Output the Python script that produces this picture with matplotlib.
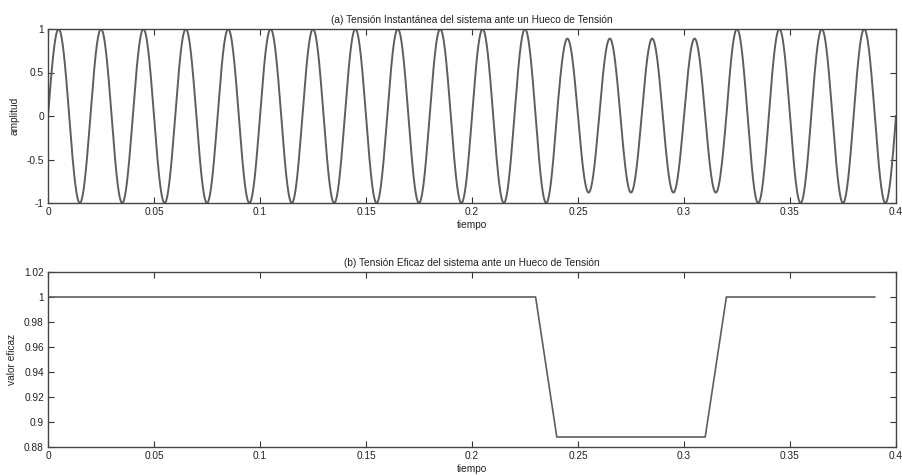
import numpy as np
import matplotlib
matplotlib.use("Agg")
import matplotlib.pyplot as plt

plt.rcParams['font.family'] = ['Liberation Sans', 'DejaVu Sans']

# --- data ---
freq_hz = 50.0
t_end = 0.4
# peak amplitude of each half cycle (0.01 s each)
half_cycle_amp = [1, 1, 1, 1, 1, 1, 1, 1, 1, 1,
                  1, 1, 1, 1, 1, 1, 1, 1, 1, 1,
                  1, 1, 1, 1, 0.89, 0.88, 0.89, 0.88, 0.89, 0.88,
                  0.89, 0.88, 1, 1, 1, 1, 1, 1, 1, 1]
rms_t = [0.0, 0.23, 0.24, 0.31, 0.32, 0.39]
rms_v = [1.0, 1.0, 0.888, 0.888, 1.0, 1.0]

x_ticks = [0, 0.05, 0.1, 0.15, 0.2, 0.25, 0.3, 0.35, 0.4]
x_ticklabels = ['0', '0.05', '0.1', '0.15', '0.2', '0.25', '0.3', '0.35', '0.4']
ya_ticks = [-1, -0.5, 0, 0.5, 1]
ya_ticklabels = ['-1', '-0.5', '0', '0.5', '1']
yb_ticks = [0.88, 0.9, 0.92, 0.94, 0.96, 0.98, 1.0, 1.02]
yb_ticklabels = ['0.88', '0.9', '0.92', '0.94', '0.96', '0.98', '1', '1.02']

title_a = "(a) Tensión Instantánea del sistema ante un Hueco de Tensión"
title_b = "(b) Tensión Eficaz del sistema ante un Hueco de Tensión"

# --- build signal ---
t = np.linspace(0, t_end, 8001)
idx = np.minimum((t / 0.01).astype(int), len(half_cycle_amp) - 1)
amp = np.array(half_cycle_amp)[idx]
v = amp * np.sin(2 * np.pi * freq_hz * t)

line_col = '#5e5e5e'
txt_col = '#222222'
fs = 7.3

fig = plt.figure(figsize=(9.02, 4.75), dpi=100)
W, H = 902, 475
def pos(l, tp, r, b):
    return [l / W, 1 - b / H, (r - l) / W, (b - tp) / H]

ax1 = fig.add_axes(pos(48, 29, 896, 203))
ax2 = fig.add_axes(pos(48, 272, 896, 447))

ax1.plot(t, v, color=line_col, lw=1.4)
ax1.set_xlim(0, 0.4)
ax1.set_ylim(-1, 1)
ax1.set_yticks(ya_ticks)
ax1.set_yticklabels(ya_ticklabels)
ax1.set_title(title_a, fontsize=fs, pad=4, color=txt_col)
ax1.set_ylabel('amplitud', fontsize=fs, labelpad=5, color=txt_col)

ax2.plot(rms_t, rms_v, color=line_col, lw=1.2)
ax2.set_xlim(0, 0.4)
ax2.set_ylim(0.88, 1.02)
ax2.set_yticks(yb_ticks)
ax2.set_yticklabels(yb_ticklabels)
ax2.set_title(title_b, fontsize=fs, pad=4, color=txt_col)
ax2.set_ylabel('valor eficaz', fontsize=fs, labelpad=5, color=txt_col)

for ax in (ax1, ax2):
    ax.set_xticks(x_ticks)
    ax.set_xticklabels(x_ticklabels)
    ax.set_xlabel('tiempo', fontsize=fs, labelpad=2, color=txt_col)
    ax.tick_params(direction='in', top=True, right=True, length=4,
                   width=0.8, colors='#333333', labelsize=fs, pad=3,
                   labelcolor=txt_col)
    for s in ax.spines.values():
        s.set_color('#444444')
        s.set_linewidth(1.0)

fig.savefig('out.png', dpi=100)
